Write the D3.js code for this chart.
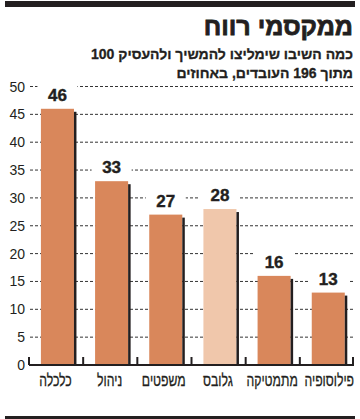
<!DOCTYPE html>
<html><head><meta charset="utf-8">
<script src="https://cdn.jsdelivr.net/npm/d3@7"></script>
<style>html,body{margin:0;padding:0;background:#fff}svg{display:block}</style>
</head><body>
<script>
const categories = ["כלכלה","ניהול","משפטים","גלובס","מתמטיקה","פילוסופיה"];
const values = [46,33,27,28,16,13];
const highlighted = ["גלובס"];
const yTicks = [0,5,10,15,20,25,30,35,40,45,50];
const title = "ממקסמי רווח";
const subtitle = ["כמה השיבו שימליצו להמשיך ולהעסיק 100","מתוך 196 העובדים, באחוזים"];

const W = 360, H = 419;
const ink = "#231f20";
const font = "'Liberation Sans', Arial, sans-serif";
const svg = d3.select("body").append("svg").attr("width", W).attr("height", H);

svg.append("rect").attr("x",5).attr("y",1).attr("width",350).attr("height",6).attr("fill",ink);
svg.append("rect").attr("x",5).attr("y",416).attr("width",350).attr("height",4).attr("fill",ink);

svg.append("text").attr("x",353).attr("y",35).attr("direction","rtl").attr("text-anchor","start")
  .attr("font-family",font).attr("font-weight","bold").attr("font-size",25)
  .attr("fill",ink).attr("stroke",ink).attr("stroke-width",0.8).text(title);
subtitle.forEach((s,i)=>{
  svg.append("text").attr("x",353).attr("y",59+i*19).attr("direction","rtl").attr("text-anchor","start")
    .attr("font-family",font).attr("font-weight","bold").attr("font-size",14)
    .attr("fill",ink).attr("stroke",ink).attr("stroke-width",0.3).text(s);
});

const y = d3.scaleLinear().domain([0,50]).range([365,86.5]);
const x = d3.scaleBand().domain(categories).range([29,354]).padding(0);
const bw = x.bandwidth();
const barX = c => x(c) + bw*0.22;
const barW = bw*0.61;

// gridlines
svg.append("g").selectAll("line").data(yTicks.filter(v=>v>0)).join("line")
  .attr("x1",30).attr("x2",355).attr("y1",d=>y(d)).attr("y2",d=>y(d))
  .attr("stroke","#333").attr("stroke-width",1).attr("stroke-dasharray","3,2");

// y labels
svg.append("g").selectAll("text").data(yTicks).join("text")
  .attr("x",25).attr("y",d=>y(d)+5).attr("text-anchor","end")
  .attr("font-family",font).attr("font-size",14).attr("fill",ink).text(d=>d);

const data = categories.map((c,i)=>({c, v:values[i]}));

// label backgrounds
svg.append("g").selectAll("rect").data(data).join("rect")
  .attr("x",d=>barX(d.c)+barW/2-20).attr("width",40)
  .attr("y",d=>y(d.v)-27).attr("height",23).attr("fill","#fff");

// bars
svg.append("g").selectAll("rect").data(data).join("rect")
  .attr("x",d=>barX(d.c)).attr("width",barW)
  .attr("y",d=>y(d.v)).attr("height",d=>y(0)-y(d.v))
  .attr("fill",d=>highlighted.includes(d.c)?"#f0c7ab":"#d9875b");
// shadows
svg.append("g").selectAll("rect").data(data).join("rect")
  .attr("x",d=>barX(d.c)+barW).attr("width",2.5)
  .attr("y",d=>y(d.v)+3).attr("height",d=>y(0)-y(d.v)-3)
  .attr("fill",ink);

// baseline and ticks
svg.append("line").attr("x1",29).attr("x2",354).attr("y1",y(0)).attr("y2",y(0))
  .attr("stroke",ink).attr("stroke-width",2);
const edges = categories.map(c=>x(c)).concat([x.range()[1]-1]);
svg.append("g").selectAll("line").data(edges).join("line")
  .attr("x1",d=>d).attr("x2",d=>d).attr("y1",357).attr("y2",y(0))
  .attr("stroke",ink).attr("stroke-width",2);

// value labels
svg.append("g").selectAll("text").data(data).join("text")
  .attr("x",d=>barX(d.c)+barW/2).attr("y",d=>y(d.v)-8).attr("text-anchor","middle")
  .attr("font-family",font).attr("font-weight","bold").attr("font-size",17).attr("fill",ink)
  .attr("stroke",ink).attr("stroke-width",0.4)
  .text(d=>d.v);

// category labels (condensed)
svg.append("g").selectAll("text").data(data).join("text")
  .attr("transform",(d,i)=>`translate(${barX(d.c)+barW/2 - (i<5?2:-1)},386) scale(0.72,1)`)
  .attr("text-anchor","middle")
  .attr("font-family",font).attr("font-size",17).attr("fill",ink)
  .attr("stroke",ink).attr("stroke-width",0.3)
  .text(d=>d.c);
</script>
</body></html>
